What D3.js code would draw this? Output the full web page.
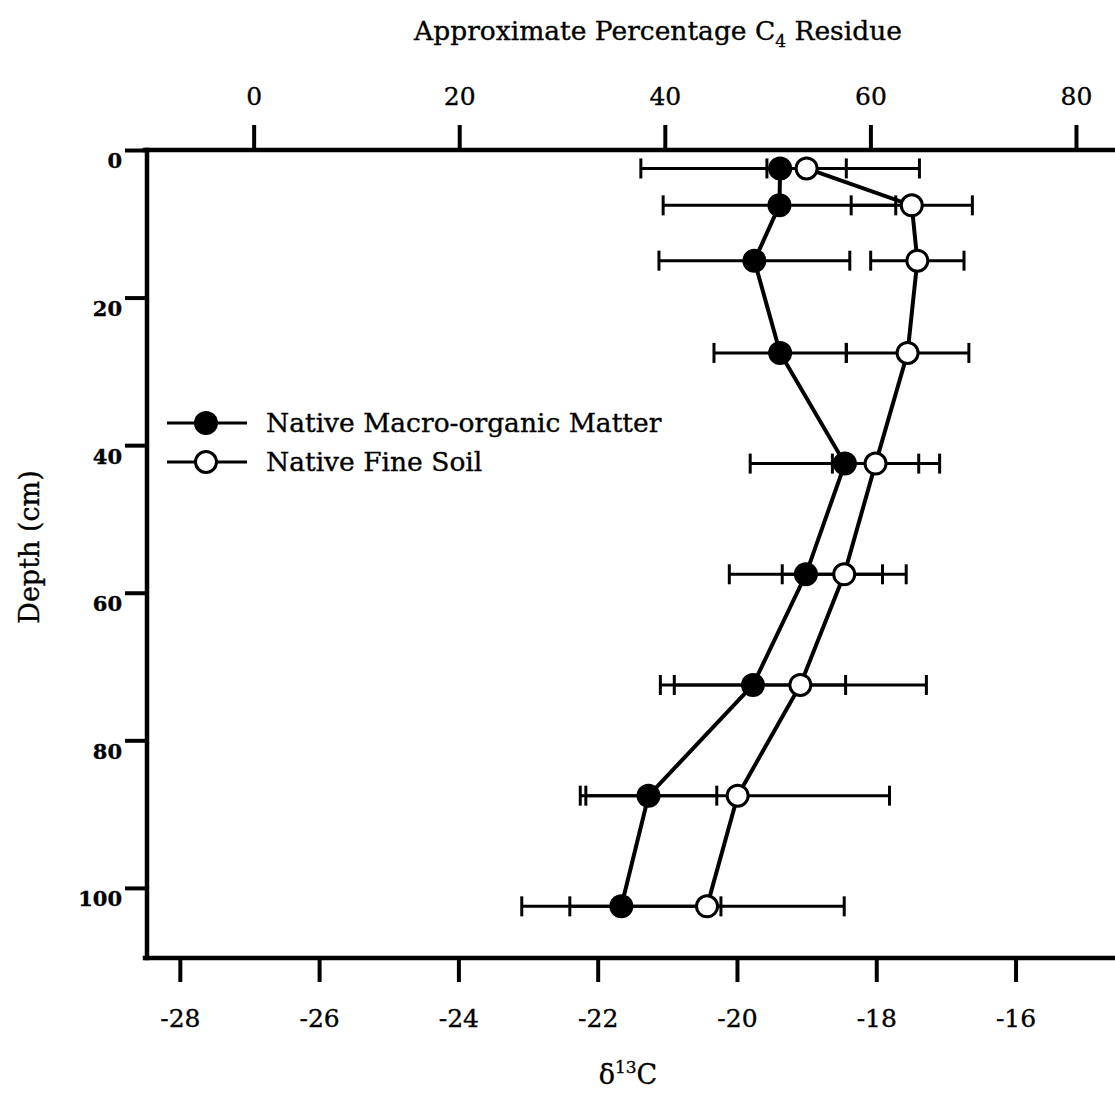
<!DOCTYPE html>
<html>
<head>
<meta charset="utf-8">
<script src="https://cdn.jsdelivr.net/npm/d3@7"></script>
<style>
  body { margin: 0; background: #fff; }
  text { font-family: "DejaVu Serif", serif; fill: #000; stroke: #000; stroke-width: 0.35; }
</style>
</head>
<body>
<div id="chart"></div>
<script>

// depth of each sampled layer (cm)
var depths = [2.5, 7.5, 15, 27.5, 42.5, 57.5, 72.5, 87.5, 102.5];

// delta 13C, Native Macro-organic Matter (filled) and Native Fine Soil (open)
var macroD13C = [-19.38, -19.39, -19.75, -19.38, -18.45, -19.01, -19.77, -21.27, -21.66];
var macroErr  = [2.00, 1.67, 1.37, 0.95, 1.36, 1.10, 1.33, 0.98, 1.43];
var fineD13C  = [-19.00, -17.49, -17.41, -17.55, -18.01, -18.46, -19.09, -19.99, -20.43];
var fineErr   = [0.57, 0.87, 0.67, 0.88, 0.62, 0.89, 1.81, 2.18, 1.97];

var seriesNames = ["Native Macro-organic Matter", "Native Fine Soil"];

var bottomTicks = [-28, -26, -24, -22, -20, -18, -16];
var topTicks = [0, 20, 40, 60, 80];
var depthTicks = [0, 20, 40, 60, 80, 100];

// end members used for the percentage C4 scale
var c3End = -26.94, c4End = -12.18;

var width = 1115, height = 1093;

var svg = d3.select("#chart")
  .append("svg")
    .attr("width", width)
    .attr("height", height);

var x = d3.scaleLinear()
  .domain([-28.5, -14.5])
  .range([145, 1120]);

var xPct = d3.scaleLinear()
  .domain([0, 100])
  .range([x(c3End), x(c4End)]);

var y = d3.scaleLinear()
  .domain([0, 109.5])
  .range([150, 958]);

// frame lines (top, left, bottom)
var frame = svg.append("g")
  .attr("stroke", "#000")
  .attr("stroke-width", 4.5)
  .attr("stroke-linecap", "square");
frame.append("line")
  .attr("x1", x(-28.5)).attr("x2", x(-14.5))
  .attr("y1", y(0)).attr("y2", y(0));
frame.append("line")
  .attr("x1", x(-28.5) + 2).attr("x2", x(-28.5) + 2)
  .attr("y1", y(0)).attr("y2", y(109.5));
frame.append("line")
  .attr("x1", x(-28.5)).attr("x2", x(-14.5))
  .attr("y1", y(109.5)).attr("y2", y(109.5));

function styleAxis(g) {
  g.select(".domain").remove();
  g.selectAll(".tick line").attr("stroke", "#000").attr("stroke-width", 4);
  g.selectAll(".tick text").attr("font-family", "DejaVu Serif").attr("fill", "#000");
}

// bottom axis: delta 13C
var xAxis = svg.append("g")
  .attr("transform", "translate(0," + y(109.5) + ")")
  .call(d3.axisBottom(x).tickValues(bottomTicks).tickSize(24).tickPadding(27)
    .tickFormat(function(d) { return d; }))
  .call(styleAxis);
xAxis.selectAll(".tick text").attr("font-size", 25);

// top axis: approximate percentage C4
var topAxis = svg.append("g")
  .attr("transform", "translate(0," + y(0) + ")")
  .call(d3.axisTop(xPct).tickValues(topTicks).tickSize(25).tickPadding(20))
  .call(styleAxis);
topAxis.selectAll(".tick text").attr("font-size", 25);

// left axis: depth
var yAxis = svg.append("g")
  .attr("transform", "translate(" + (x(-28.5) + 2) + ",0)")
  .call(d3.axisLeft(y).tickValues(depthTicks).tickSize(22).tickPadding(3))
  .call(styleAxis);
yAxis.selectAll(".tick text")
  .attr("font-size", 21)
  .attr("font-weight", "bold")
  .attr("dy", "0.85em");

// axis titles
var title = svg.append("text")
  .attr("x", 658)
  .attr("y", 40)
  .attr("text-anchor", "middle")
  .attr("font-size", 26.5);
title.append("tspan").text("Approximate Percentage C");
title.append("tspan").attr("font-size", 17).attr("dy", 7).text("4");
title.append("tspan").attr("dy", -7).text(" Residue");

var xLabel = svg.append("text")
  .attr("x", 628)
  .attr("y", 1084)
  .attr("text-anchor", "middle")
  .attr("font-size", 27);
xLabel.append("tspan").text("\u03b4");
xLabel.append("tspan").attr("font-size", 17).attr("dy", -11).text("13");
xLabel.append("tspan").attr("dy", 11).text("C");

svg.append("text")
  .attr("transform", "translate(39,547) rotate(-90)")
  .attr("text-anchor", "middle")
  .attr("font-size", 27)
  .text("Depth (cm)");

// data rows
var macro = depths.map(function(d, i) { return {depth: d, v: macroD13C[i], e: macroErr[i]}; });
var fine = depths.map(function(d, i) { return {depth: d, v: fineD13C[i], e: fineErr[i]}; });

function errorBars(data) {
  var g = svg.append("g").attr("stroke", "#000").attr("stroke-width", 3);
  g.selectAll(".bar").data(data).enter().append("line")
    .attr("x1", function(d) { return x(d.v - d.e); })
    .attr("x2", function(d) { return x(d.v + d.e); })
    .attr("y1", function(d) { return y(d.depth); })
    .attr("y2", function(d) { return y(d.depth); });
  [-1, 1].forEach(function(s) {
    g.selectAll(".cap" + s).data(data).enter().append("line")
      .attr("x1", function(d) { return x(d.v + s * d.e); })
      .attr("x2", function(d) { return x(d.v + s * d.e); })
      .attr("y1", function(d) { return y(d.depth) - 10; })
      .attr("y2", function(d) { return y(d.depth) + 10; });
  });
}

errorBars(macro);
errorBars(fine);

var line = d3.line()
  .x(function(d) { return x(d.v); })
  .y(function(d) { return y(d.depth); });

[macro, fine].forEach(function(data) {
  svg.append("path")
    .datum(data)
    .attr("d", line)
    .attr("fill", "none")
    .attr("stroke", "#000")
    .attr("stroke-width", 4);
});

svg.append("g").selectAll("circle").data(macro).enter().append("circle")
  .attr("cx", function(d) { return x(d.v); })
  .attr("cy", function(d) { return y(d.depth); })
  .attr("r", 12)
  .attr("fill", "#000");

svg.append("g").selectAll("circle").data(fine).enter().append("circle")
  .attr("cx", function(d) { return x(d.v); })
  .attr("cy", function(d) { return y(d.depth); })
  .attr("r", 10.5)
  .attr("fill", "#fff")
  .attr("stroke", "#000")
  .attr("stroke-width", 3);

// legend
var legend = svg.append("g");
seriesNames.forEach(function(name, i) {
  var ly = 423 + i * 39;
  legend.append("line")
    .attr("x1", 167).attr("x2", 247)
    .attr("y1", ly).attr("y2", ly)
    .attr("stroke", "#000").attr("stroke-width", 3);
  legend.append("circle")
    .attr("cx", 206).attr("cy", ly)
    .attr("r", i == 0 ? 12 : 10.5)
    .attr("fill", i == 0 ? "#000" : "#fff")
    .attr("stroke", "#000")
    .attr("stroke-width", i == 0 ? 0 : 3);
  legend.append("text")
    .attr("x", 266).attr("y", ly + 9)
    .attr("font-size", 26.5)
    .text(name);
});

</script>
</body>
</html>
